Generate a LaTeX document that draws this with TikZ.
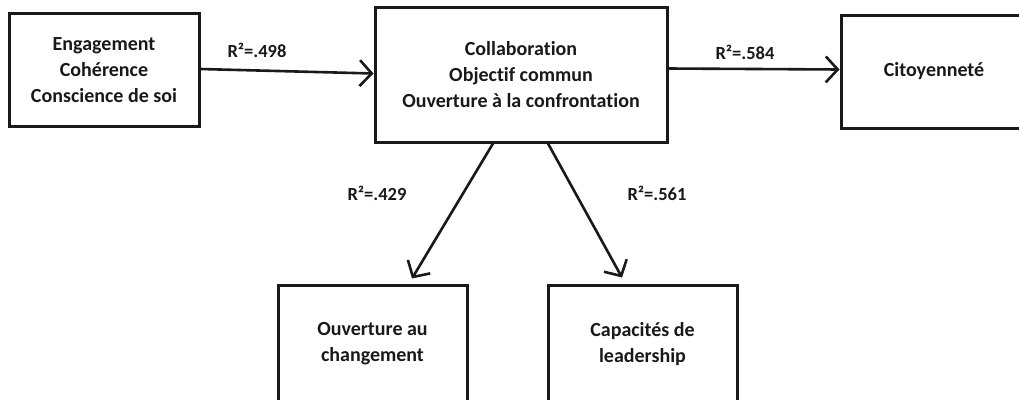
\documentclass[tikz,border=0pt]{standalone}
\usepackage{fontspec}
\setmainfont{Carlito}[Ligatures=NoCommon]
\usetikzlibrary{arrows.meta}
\begin{document}
\begin{tikzpicture}[x=1pt,y=-1pt,
  box/.style={draw=black!90, line width=3pt, fill=white, align=center, inner sep=0pt,
    font=\fontsize{20}{26}\selectfont\bfseries, text=black!90},
  conn/.style={draw=black!90, line width=2.6pt,
    -{Straight Barb[length=12pt, width=26pt, line width=2.6pt]}},
  rlab/.style={font=\fontsize{18.5}{20}\selectfont\bfseries, text=black!90, inner sep=0pt}]
\useasboundingbox (0,0) rectangle (1019,399);
\node[box, minimum width=190pt, minimum height=113pt] (b1) at (104,70)
  {Engagement\\Cohérence\\Conscience de soi};
\node[box, minimum width=292pt, minimum height=135pt] (b2) at (521,74.5)
  {Collaboration\\Objectif commun\\Ouverture à la confrontation};
\node[box, minimum width=186pt, minimum height=113pt] (b3) at (934,71.5)
  {Citoyenneté};
\node[box, minimum width=189pt, minimum height=118pt] (b4) at (372.5,344)
  {Ouverture au\\changement};
\node[box, minimum width=189pt, minimum height=118pt] (b5) at (642.5,344)
  {Capacités de\\leadership};
\draw[conn] ([yshift=1pt]b1.east) -- ([yshift=1pt]b2.west);
\draw[conn] ([yshift=6pt]b2.east) -- ([yshift=2pt]b3.west);
\draw[conn] ([xshift=-28pt]b2.south) -- ([xshift=39.5pt,yshift=5pt]b4.north);
\draw[conn] ([xshift=27pt]b2.south) -- ([xshift=-20.5pt,yshift=6pt]b5.north);
\node[rlab] (l1) at (257,50) {R²=.498};
\node[rlab] (l2) at (745,52) {R²=.584};
\node[rlab] (l3) at (377,193) {R²=.429};
\node[rlab] (l4) at (657,193) {R²=.561};
\end{tikzpicture}
\end{document}
